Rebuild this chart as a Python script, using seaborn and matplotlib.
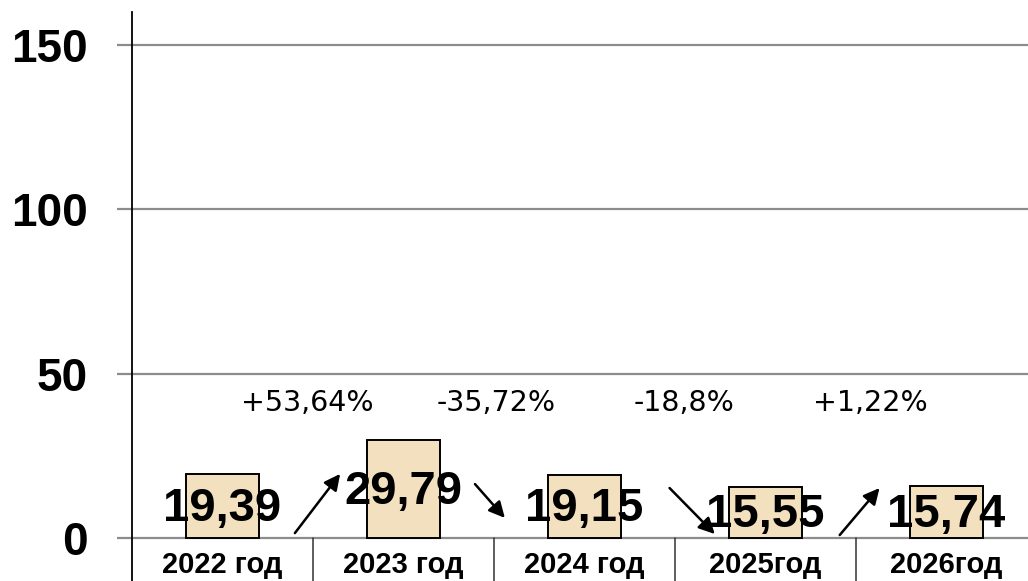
import matplotlib
matplotlib.use("Agg")
import matplotlib.pyplot as plt
import seaborn as sns
import pandas as pd
from matplotlib import font_manager

categories = ["2022 год", "2023 год", "2024 год", "2025год", "2026год"]
values = [19.39, 29.79, 19.15, 15.55, 15.74]
value_labels = ["19,39", "29,79", "19,15", "15,55", "15,74"]
changes = ["+53,64%", "-35,72%", "-18,8%", "+1,22%"]
yticks = [0, 50, 100, 150]

# arrow start/end offsets (layout) relative to category positions
arrow_starts = [(0.40, 1.5), (1.395, 16.4), (2.47, 15.2), (3.41, 0.9)]
arrow_ends = [(0.65, 19.5), (1.56, 6.1), (2.72, 1.2), (3.63, 15.2)]

sns.set_style("white")
plt.rcParams["font.family"] = ["Liberation Sans", "DejaVu Sans"]
plt.rcParams["text.color"] = "black"
plt.rcParams["ytick.labelcolor"] = "black"

names = {f.name for f in font_manager.fontManager.ttflist}
if "Liberation Sans Narrow" in names:
    value_family = ["Liberation Sans Narrow", "Liberation Sans"]
    value_size = 40
else:
    value_family = ["Liberation Sans", "DejaVu Sans"]
    value_size = 34

W, H = 1028, 581
fig = plt.figure(figsize=(W / 100, H / 100), dpi=100)
ax = fig.add_axes([132 / W, 0, (1037 - 132) / W, (581 - 12) / H])

df = pd.DataFrame({"cat": categories, "val": values})
sns.barplot(data=df, x="cat", y="val", ax=ax, color="#F3E0BE",
            edgecolor="black", linewidth=1.4, width=0.4, saturation=1)

ymin, ymax = -13.08, 160.0
ax.set_xlim(-0.5, len(categories) - 0.5)
ax.set_ylim(ymin, ymax)

# horizontal gridlines
for t in yticks:
    ax.axhline(t, color="#8C8C8C", lw=1.6, zorder=0)
ax.set_yticks(yticks)
ax.set_yticklabels([str(t) for t in yticks], fontsize=33, fontweight="bold",
                   color="black")
ax.tick_params(axis="y", length=11, width=1.6, color="#8C8C8C", pad=21,
               direction="out", left=True)
ax.set_xticks([])
ax.set_xlabel("")
ax.set_ylabel("")

for s in ["top", "right", "bottom"]:
    ax.spines[s].set_visible(False)
ax.spines["left"].set_color("black")
ax.spines["left"].set_linewidth(1.3)

# category separators below the zero line
for b in range(1, len(categories)):
    ax.plot([b - 0.5, b - 0.5], [ymin, 0], color="#333333", lw=1.1,
            clip_on=False)

# category labels
for i, c in enumerate(categories):
    ax.text(i, -8.2, c, ha="center", va="center", fontsize=21,
            fontweight="bold", color="black")

# value labels
for i, (v, lab) in enumerate(zip(values, value_labels)):
    ax.text(i, v / 2 - 0.8, lab, ha="center", va="center",
            fontsize=value_size, fontweight="bold", family=value_family,
            color="black", zorder=5)

# percentage change labels
pct_x = [0.47, 1.51, 2.55, 3.58]
for x, txt in zip(pct_x, changes):
    ax.text(x, 41, txt, ha="center", va="center", fontsize=20.5,
            family=["DejaVu Sans"], color="black")

# arrows
for (sx, sy), (ex, ey) in zip(arrow_starts, arrow_ends):
    ax.annotate("", xy=(ex, ey), xytext=(sx, sy),
                arrowprops=dict(arrowstyle="-|>", color="black", lw=1.8,
                                mutation_scale=24, shrinkA=0, shrinkB=0))

fig.savefig("out.png", dpi=100)
